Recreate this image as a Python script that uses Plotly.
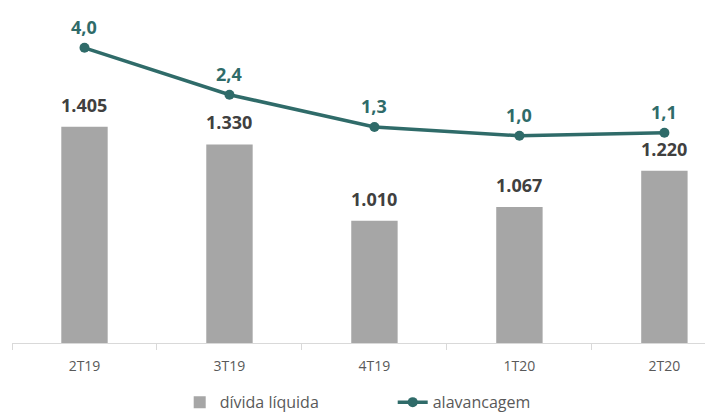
import plotly.graph_objects as go

categories = ["2T19", "3T19", "4T19", "1T20", "2T20"]
divida_liquida = [1405, 1330, 1010, 1067, 1220]
alavancagem = [4.0, 2.4, 1.3, 1.0, 1.1]

def fmt_thousands(v):
    return f"{v:,}".replace(",", ".")

def fmt_dec(v):
    return f"{v:.1f}".replace(".", ",")

BAR_COLOR = "#A6A6A6"
LINE_COLOR = "#2F6B69"
FONT = "Open Sans"

fig = go.Figure()
fig.add_trace(go.Bar(
    x=categories, y=divida_liquida, name="dívida líquida",
    marker=dict(color=BAR_COLOR, line=dict(width=0)),
    width=0.32, yaxis="y",
))
fig.add_trace(go.Scatter(
    x=categories, y=alavancagem, name="alavancagem",
    mode="lines+markers", yaxis="y2",
    line=dict(color=LINE_COLOR, width=3.5),
    marker=dict(color=LINE_COLOR, size=10),
))

annotations = []
for c, v in zip(categories, divida_liquida):
    annotations.append(dict(x=c, y=v, xref="x", yref="y", text=f"<b>{fmt_thousands(v)}</b>",
                            showarrow=False, yshift=22,
                            font=dict(family=FONT, size=18, color="#404040")))
for c, v in zip(categories, alavancagem):
    annotations.append(dict(x=c, y=v, xref="x", yref="y2", text=f"<b>{fmt_dec(v)}</b>",
                            showarrow=False, yshift=21,
                            font=dict(family=FONT, size=18, color=LINE_COLOR)))

fig.update_layout(
    width=705, height=412,
    margin=dict(l=12, r=0, t=5, b=69, autoexpand=False),
    paper_bgcolor="white", plot_bgcolor="white",
    font=dict(family=FONT, color="#595959"),
    barmode="group",
    showlegend=True,
    legend=dict(orientation="h", x=0.242, xanchor="left", y=-0.125, yanchor="top",
                font=dict(family=FONT, size=16, color="#595959"),
                itemwidth=30, entrywidth=168, entrywidthmode="pixels", tracegroupgap=0),
    xaxis=dict(type="category", range=[-0.5, 4.28],
               showline=True, linecolor="#D9D9D9", linewidth=1,
               ticks="outside", tickson="boundaries", ticklen=6, tickcolor="#D9D9D9",
               ticklabelstandoff=10,
               showgrid=False, tickfont=dict(family=FONT, size=14, color="#595959")),
    yaxis=dict(range=[496, 1916], visible=False, showgrid=False, zeroline=False),
    yaxis2=dict(range=[-6.07, 5.46], overlaying="y", side="right", visible=False,
                showgrid=False, zeroline=False),
    annotations=annotations,
)

fig.write_html("out.html",
               config={"displayModeBar": False},
               post_script="document.body.style.margin='0';document.body.style.overflow='hidden';")
